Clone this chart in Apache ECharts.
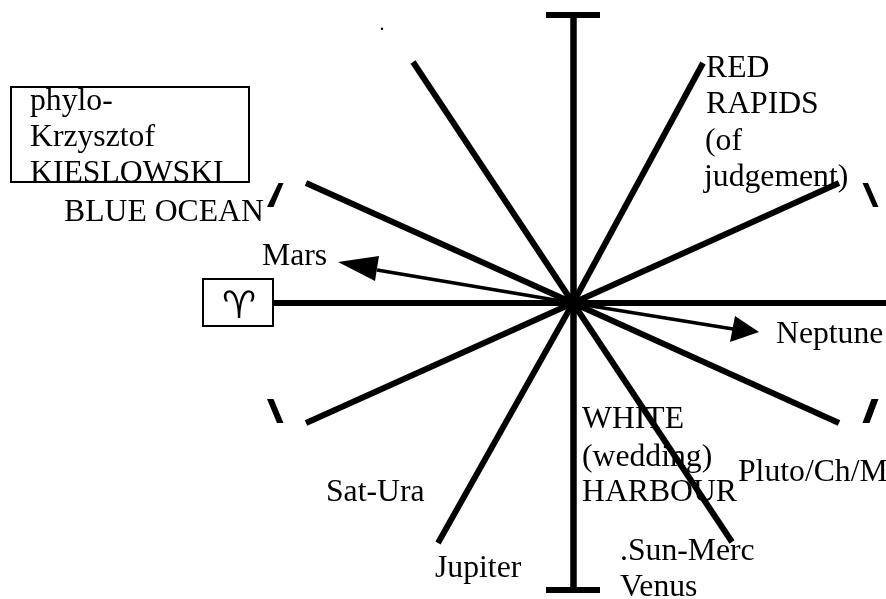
<!DOCTYPE html>
<html>
<head>
<meta charset="utf-8">
<style>html,body{margin:0;padding:0;background:#fff}#main{width:886px;height:599px}</style>
<script src="https://cdn.jsdelivr.net/npm/echarts@6/dist/echarts.min.js"></script>
</head>
<body>
<div id="main"></div>
<script>
var center = [573, 303];
// spoke ends
var spokeEnds = [[703, 63], [839, 183], [886, 303], [839, 423], [732, 542], [438, 543], [306, 423], [274, 303], [306, 183], [413, 62]];
var verticalEnds = [[573, 15], [573, 590]];
var capSegments = [[[546, 15], [600, 15]], [[546, 590], [600, 590]]];
var arrowEnds = [[377, 270], [733, 329]];
var arrowHeads = [[338, 262, 379, 256, 375, 281], [759, 332, 735, 316, 730, 342]];
// little marks with flat ends
var tickMarks = [
    [278.5, 183, 283.5, 183, 273.5, 207, 267, 207],
    [862.5, 183, 868, 183, 878.5, 207, 873, 207],
    [267, 399, 273.5, 399, 283.5, 423, 277, 423],
    [871.5, 399, 878.5, 399, 869.5, 423, 862.5, 423]
];
var boxes = [[11, 87, 249, 182], [203, 279, 273, 326]];
var maskRows = [[8, 183, 252, 192]];
var labelTexts = ['phylo-', 'Krzysztof', 'KIESLOWSKI', 'BLUE OCEAN', 'Mars', 'Neptune', 'RED', 'RAPIDS', '(of', 'judgement)', 'WHITE', '(wedding)', 'HARBOUR', 'Pluto/Ch/M', 'Sat-Ura', 'Jupiter', '.Sun-Merc', 'Venus'];
var labelX = [30, 30, 30, 64, 262, 776, 706, 706, 705, 704, 582, 582, 582, 738, 326, 435, 620, 620];
var labelY = [111, 147, 183, 222, 266, 344, 78, 114, 151, 187, 429, 467, 502, 482, 502, 578, 561, 597];

var serif = '"Liberation Serif", "Times New Roman", serif';

function rectItem(fill, stroke) {
    return function (params, api) {
        var a = api.coord([api.value(0), api.value(1)]);
        var b = api.coord([api.value(2), api.value(3)]);
        return {
            type: 'rect',
            shape: { x: a[0], y: a[1], width: b[0] - a[0], height: b[1] - a[1] },
            style: { fill: fill, stroke: stroke, lineWidth: stroke ? 2 : 0 }
        };
    };
}

function polygonItem(size) {
    return function (params, api) {
        var pts = [];
        for (var k = 0; k < size * 2; k += 2) {
            pts.push(api.coord([api.value(k), api.value(k + 1)]));
        }
        return { type: 'polygon', shape: { points: pts }, style: { fill: '#000' } };
    };
}

function segmentLines(rows, width) {
    return {
        type: 'lines',
        z: 3,
        coordinateSystem: 'cartesian2d',
        lineStyle: { color: '#000', width: width, curveness: 0, opacity: 1 },
        data: rows.map(function (s) { return { coords: s }; })
    };
}

function fromCenter(ends) {
    return ends.map(function (e) { return [center, e]; });
}

var myChart = echarts.init(document.getElementById('main'));
myChart.setOption({
    animation: false,
    backgroundColor: '#fff',
    grid: { left: 0, right: 0, top: 0, bottom: 0 },
    xAxis: { type: 'value', min: 0, max: 886, show: false },
    yAxis: { type: 'value', min: 0, max: 599, inverse: true, show: false },
    series: [
        {
            // all the text, under the lines
            type: 'scatter',
            z: 1,
            symbolSize: 0,
            itemStyle: { opacity: 1 },
            data: labelTexts.map(function (t, i) { return { name: t, value: [labelX[i], labelY[i]] }; }),
            label: {
                show: true,
                position: 'inside',
                align: 'left',
                verticalAlign: 'middle',
                offset: [0, -9],
                color: '#000',
                fontFamily: serif,
                fontSize: 31.7,
                formatter: function (p) { return p.name; }
            }
        },
        {
            // cuts the bottom of KIESLOWSKI at the box
            type: 'custom',
            z: 2,
            renderItem: rectItem('#fff', null),
            data: maskRows
        },
        segmentLines(fromCenter(spokeEnds), 6),
        segmentLines(fromCenter(verticalEnds), 6.5),
        segmentLines(capSegments, 6),
        segmentLines(fromCenter(arrowEnds), 3.5),
        {
            type: 'custom',
            z: 3,
            renderItem: polygonItem(3),
            data: arrowHeads
        },
        {
            type: 'custom',
            z: 3,
            renderItem: polygonItem(4),
            data: tickMarks
        },
        {
            type: 'custom',
            z: 4,
            renderItem: rectItem('none', '#000'),
            data: boxes
        },
        {
            // aries sign and the lone dot at the top
            type: 'scatter',
            z: 5,
            symbolSize: 0,
            itemStyle: { opacity: 1 },
            data: [
                { name: '\u2648\uFE0E', value: [239, 308], label: { fontSize: 38, fontFamily: '"DejaVu Sans", serif' } },
                { name: '.', value: [382, 25], label: { fontSize: 20, fontFamily: serif } }
            ],
            label: {
                show: true,
                position: 'inside',
                color: '#000',
                formatter: function (p) { return p.name; }
            }
        }
    ]
});
</script>
</body>
</html>
